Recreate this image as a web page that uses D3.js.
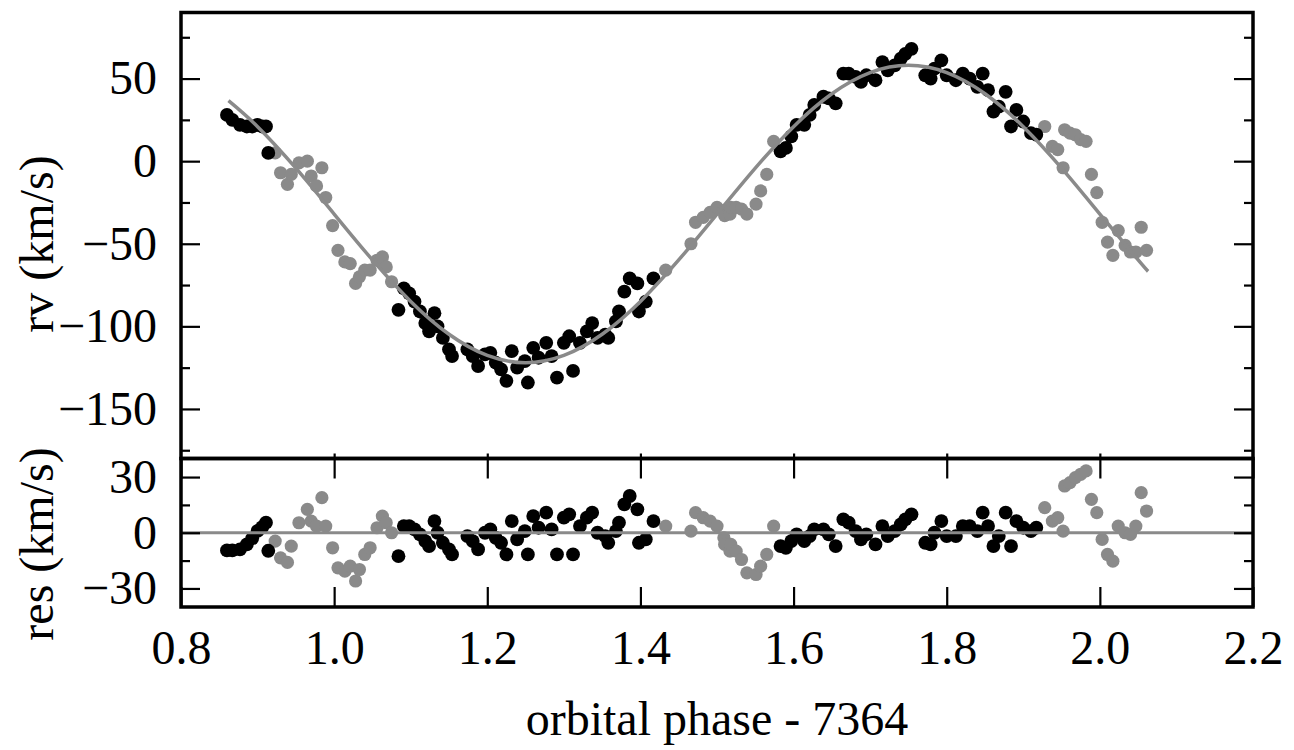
<!DOCTYPE html>
<html>
<head>
<meta charset="utf-8">
<script src="https://cdn.jsdelivr.net/npm/d3@7"></script>
<style>
  html, body { margin: 0; padding: 0; background: #fff; }
  svg { display: block; }
  text { font-family: "Liberation Serif", "Times New Roman", serif; fill: #000; }
</style>
</head>
<body>
<svg id="chart" width="1294" height="750"></svg>
<script>
// ---------- data ----------
const blackPhase = [0.860,0.867,0.877,0.886,0.893,0.900,0.906,0.911,0.914,
  1.084,1.091,1.098,1.105,1.112,1.119,1.124,1.131,1.135,1.142,
  1.150,1.154,1.174,1.181,1.188,1.197,1.204,1.211,1.218,1.225,
  1.232,1.239,1.249,1.253,1.260,1.267,1.277,1.284,1.291,1.300,
  1.307,1.312,1.321,1.330,1.337,1.344,1.354,1.358,1.368,1.372,
  1.379,1.386,1.396,1.398,1.407,1.417,
  1.583,1.590,1.597,1.604,1.614,1.621,1.627,1.639,1.646,1.655,
  1.665,1.672,1.681,1.688,1.695,1.707,1.716,1.723,1.732,1.740,
  1.746,1.754,1.772,1.779,1.784,1.793,1.800,1.812,1.821,1.830,
  1.840,1.847,1.854,1.861,1.868,1.877,1.884,1.891,1.900,1.910,1.917];
const blackRv = [28,25,22,21,21,22,21,21,5,
  -90,-77,-80,-85,-91,-98,-103,-92,-100,-107,
  -114,-118,-114,-118,-124,-117,-116,-122,-126,-133,
  -115,-125,-121,-134,-113,-119,-110,-118,-131,-110,
  -106,-127,-110,-103,-98,-107,-105,-107,-97,-91,
  -79,-71,-74,-91,-85,-71,
  6,8,15,22,22,28,34,39,38,35,
  53,53,51,48,52,49,60,55,58,62,
  65,68,52,50,56,61,52,49,53,50,
  45,53,43,30,33,42,21,31,24,17,16];
const blackRes = [-9.5,-9.5,-9,-6.3,-3,1,3,5.4,-9.7,
  -12.6,3.6,3.6,1.8,-0.9,-4.5,-7.2,6.3,0,-5.4,
  -9,-11.7,-1.8,-4.5,-9,0,1.8,-2.7,-5.4,-11.7,
  6.3,-3.6,0.9,-11.7,9,2.7,10.8,1.8,-11.7,8.1,
  9.9,-11.7,3.6,8.1,10.8,0,-1.8,-5.4,0.9,5.4,
  15.3,19.8,12.6,-5.4,-3.6,6.3,
  -7.2,-8.1,-4.5,-0.9,-4.5,-1.8,1.8,1.8,-0.9,-7.2,
  7.2,5.4,0.9,-3.6,-0.9,-6.3,3.6,-1.8,0.9,4.5,
  7.2,9.9,-5.4,-6.3,0,6.3,-1.8,-1.8,3.6,3.6,
  0.9,10.8,3.6,-7.2,-1.8,10.8,-7.2,6.3,2.7,0.9,2.7];

const greyPhase = [0.923,0.930,0.939,0.944,0.954,0.965,0.970,0.977,0.984,0.989,
  0.998,1.005,1.014,1.021,1.028,1.033,1.040,1.047,1.056,1.063,1.068,1.075,
  1.433,1.466,1.472,1.482,1.491,1.500,1.509,1.510,1.517,1.518,
  1.525,1.532,1.539,1.551,1.557,1.565,1.574,
  1.928,1.938,1.945,1.952,1.954,1.961,1.968,1.975,1.982,1.989,
  1.996,2.003,2.010,2.017,2.024,2.033,2.040,2.047,2.054,2.061];
const greyRv = [5,-7,-14,-8,-1,0,-9,-15,-4,-22,
  -39,-54,-61,-62,-74,-70,-66,-66,-60,-58,-64,-73,
  -66,-50,-37,-34,-31,-28,-30,-33,-32,-28,
  -28,-29,-32,-26,-18,-8,12,
  21,9,7,-4,19,17,16,13,12,-8,
  -19,-37,-49,-57,-42,-51,-55,-55,-40,-54];
const greyRes = [-4.5,-13.5,-16,-7.2,5.4,12.6,6.3,3.6,18.9,3.6,
  -8.1,-18.9,-20.7,-18,-26,-19.8,-11.7,-8.1,2.7,9,5.4,0,
  3.6,0.9,10.8,8.1,6.3,3.6,-2.7,-6.3,-9.9,-6.3,
  -9.9,-14.4,-21.6,-22.5,-18,-11.7,3.6,
  13.5,6.3,8.1,0.9,25.2,27,29.7,31.5,33.3,18,
  10.8,-3.6,-11.7,-15.3,3.6,0,-0.9,3.6,21.6,11.7];

// fitted curve
const fitPhase = [0.862,0.90,0.95,1.00,1.05,1.10,1.15,1.20,1.25,1.30,1.35,1.40,1.45,1.50,
  1.55,1.60,1.65,1.70,1.75,1.80,1.85,1.90,1.95,2.00,2.05,2.063];
const fitRv = [36.6,20.9,-4.2,-32,-59.8,-84.9,-104.8,-117.6,-122,-117.6,-104.8,-84.9,-59.8,-32,
  -4.2,20.9,40.8,53.6,58,53.6,40.8,20.9,-4.2,-32,-59.8,-66.7];

// ticks
const xTicks = [0.8,1.0,1.2,1.4,1.6,1.8,2.0,2.2];
const rvTicks = [-150,-100,-50,0,50];
const rvMinor = [-175,-125,-75,-25,25,75];
const resTicks = [-30,0,30];
const resMinor = [-15,15];

// ---------- layout ----------
const svg = d3.select("#chart");
const L = 181, R = 1253, T1 = 12.5, B1 = 458.5, T2 = 458.5, B2 = 607;
const FS = 48;
const grey = "#8a8a8a";

const x = d3.scaleLinear().domain([0.8, 2.2]).range([L, R]);
const yTop = d3.scaleLinear().domain([-180, 90]).range([B1, T1]);
const yBot = d3.scaleLinear().domain([-40, 40]).range([B2, T2]);

const black = blackPhase.map((p, i) => ({p, rv: blackRv[i], res: blackRes[i]}));
const greyPts = greyPhase.map((p, i) => ({p, rv: greyRv[i], res: greyRes[i]}));

// top panel points
const gTop = svg.append("g");
gTop.selectAll("circle.g").data(greyPts).join("circle")
  .attr("cx", d => x(d.p)).attr("cy", d => yTop(d.rv)).attr("r", 6.6).attr("fill", grey);
gTop.selectAll("circle.b").data(black).join("circle")
  .attr("cx", d => x(d.p)).attr("cy", d => yTop(d.rv)).attr("r", 6.9).attr("fill", "#000");

const fit = fitPhase.map((p, i) => ({p, v: fitRv[i]}));
gTop.append("path").datum(fit)
  .attr("d", d3.line().x(d => x(d.p)).y(d => yTop(d.v)).curve(d3.curveNatural))
  .attr("fill", "none").attr("stroke", grey).attr("stroke-width", 3.5);

// bottom panel
const gBot = svg.append("g");
gBot.selectAll("circle.g").data(greyPts).join("circle")
  .attr("cx", d => x(d.p)).attr("cy", d => yBot(d.res)).attr("r", 6.6).attr("fill", grey);
gBot.selectAll("circle.b").data(black).join("circle")
  .attr("cx", d => x(d.p)).attr("cy", d => yBot(d.res)).attr("r", 6.9).attr("fill", "#000");
gBot.append("line")
  .attr("x1", x(0.8)).attr("x2", x(2.2)).attr("y1", yBot(0)).attr("y2", yBot(0))
  .attr("stroke", grey).attr("stroke-width", 3.2);

// axes helpers
function styleAxis(g) {
  g.select(".domain").remove();
  g.selectAll(".tick line").attr("stroke", "#000").attr("stroke-width", 2.2);
  g.selectAll(".tick text").attr("font-size", FS).attr("fill", "#000")
    .style("font-family", '"Liberation Serif", "Times New Roman", serif');
}

// top panel y axes
svg.append("g").attr("transform", `translate(${L},0)`)
  .call(d3.axisLeft(yTop).tickValues(rvTicks).tickSize(-19).tickPadding(24))
  .call(styleAxis);
svg.append("g").attr("transform", `translate(${L},0)`)
  .call(d3.axisLeft(yTop).tickValues(rvMinor).tickSize(-9).tickFormat(""))
  .call(styleAxis);
svg.append("g").attr("transform", `translate(${R},0)`)
  .call(d3.axisRight(yTop).tickValues(rvTicks).tickSize(-19).tickFormat(""))
  .call(styleAxis);
svg.append("g").attr("transform", `translate(${R},0)`)
  .call(d3.axisRight(yTop).tickValues(rvMinor).tickSize(-9).tickFormat(""))
  .call(styleAxis);
// top panel tiny x ticks at its bottom edge
svg.append("g").attr("transform", `translate(0,${B1})`)
  .call(d3.axisBottom(x).tickValues(xTicks.slice(1, -1)).tickSize(-5).tickFormat(""))
  .call(styleAxis);

// bottom panel y axes
svg.append("g").attr("transform", `translate(${L},0)`)
  .call(d3.axisLeft(yBot).tickValues(resTicks).tickSize(-19).tickPadding(24))
  .call(styleAxis);
svg.append("g").attr("transform", `translate(${L},0)`)
  .call(d3.axisLeft(yBot).tickValues(resMinor).tickSize(-9).tickFormat(""))
  .call(styleAxis);
svg.append("g").attr("transform", `translate(${R},0)`)
  .call(d3.axisRight(yBot).tickValues(resTicks).tickSize(-19).tickFormat(""))
  .call(styleAxis);
svg.append("g").attr("transform", `translate(${R},0)`)
  .call(d3.axisRight(yBot).tickValues(resMinor).tickSize(-9).tickFormat(""))
  .call(styleAxis);

// bottom panel x axes
svg.append("g").attr("transform", `translate(0,${B2})`)
  .call(d3.axisBottom(x).tickValues(xTicks).tickSize(-20).tickPadding(23).tickFormat(d3.format(".1f")))
  .call(styleAxis);
svg.append("g").attr("transform", `translate(0,${T2})`)
  .call(d3.axisTop(x).tickValues(xTicks).tickSize(-20).tickFormat(""))
  .call(styleAxis);

// frames
svg.append("rect").attr("x", L).attr("y", T1).attr("width", R - L).attr("height", B1 - T1)
  .attr("fill", "none").attr("stroke", "#000").attr("stroke-width", 3.5);
svg.append("rect").attr("x", L).attr("y", T2).attr("width", R - L).attr("height", B2 - T2)
  .attr("fill", "none").attr("stroke", "#000").attr("stroke-width", 3.5);

// labels
svg.append("text").attr("transform", "translate(53,244) rotate(-90)")
  .attr("text-anchor", "middle").attr("font-size", FS).text("rv (km/s)");
svg.append("text").attr("transform", "translate(53,544) rotate(-90)")
  .attr("text-anchor", "middle").attr("font-size", FS).text("res (km/s)");
svg.append("text").attr("x", (L + R) / 2).attr("y", 735)
  .attr("text-anchor", "middle").attr("font-size", FS).text("orbital phase - 7364");
</script>
</body>
</html>
